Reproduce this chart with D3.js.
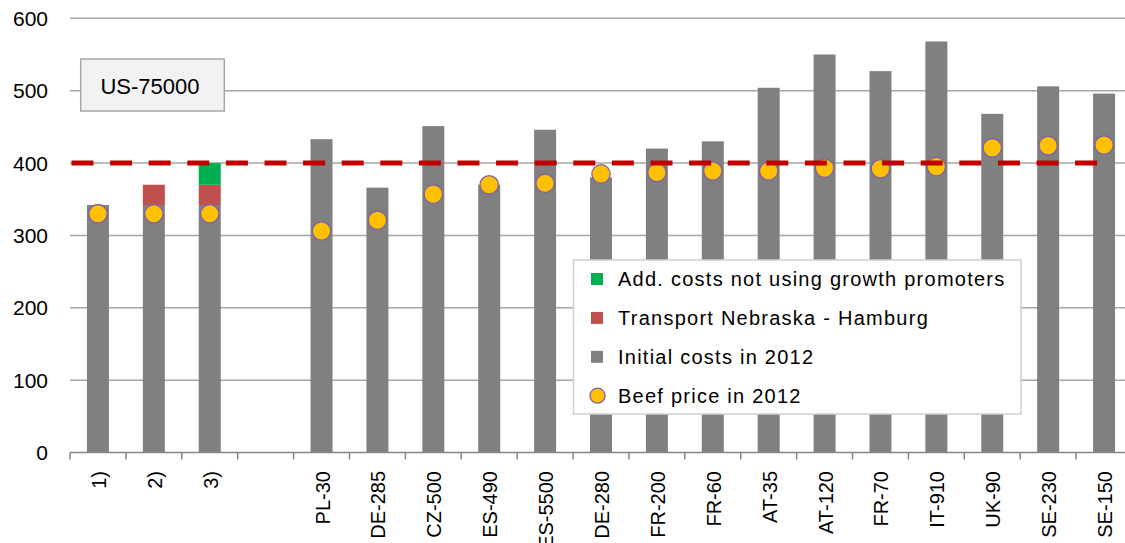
<!DOCTYPE html>
<html>
<head>
<meta charset="utf-8">
<script src="https://cdn.jsdelivr.net/npm/d3@7/dist/d3.min.js"></script>
<style>
  html, body { margin: 0; padding: 0; background: #fff; }
  svg { display: block; font-family: "Liberation Sans", Arial, sans-serif; }
</style>
</head>
<body>
<svg id="chart" width="1125" height="543"></svg>
<script>
// ---- data ----
const categories = ["1)", "2)", "3)", "", "PL-30", "DE-285", "CZ-500", "ES-490", "ES-5500", "DE-280",
  "FR-200", "FR-60", "AT-35", "AT-120", "FR-70", "IT-910", "UK-90", "SE-230", "SE-150"];
const initialCosts = [342, 342, 342, null, 433, 366, 451, 370, 446, 380, 420, 430, 504, 550, 527, 568, 468, 506, 496];
const transportCosts = [0, 28, 28, null, 0, 0, 0, 0, 0, 0, 0, 0, 0, 0, 0, 0, 0, 0, 0];
const addCosts = [0, 0, 30, null, 0, 0, 0, 0, 0, 0, 0, 0, 0, 0, 0, 0, 0, 0, 0];
const beefPrice = [330, 330, 330, null, 306, 321, 357, 370, 372, 385, 387, 389, 389, 393, 392, 395, 421, 424, 425];
const referenceValue = 400;
const yTicks = [0, 100, 200, 300, 400, 500, 600];
const boxLabel = "US-75000";
const legendLabels = ["Add. costs not using growth promoters", "Transport Nebraska - Hamburg", "Initial costs in 2012", "Beef price in 2012"];

// ---- layout ----
const svg = d3.select("#chart");
const plotLeft = 70, plotRight = 1132, plotTop = 18.3, plotBottom = 452.5;

const x = d3.scaleBand().domain(d3.range(categories.length)).range([plotLeft, plotRight]).paddingInner(0).paddingOuter(0);
const y = d3.scaleLinear().domain([0, 600]).range([plotBottom, plotTop]);
const barW = 22;
const colors = { initial: "#808080", transport: "#C0504D", add: "#00B050", dot: "#FFC000", dotStroke: "#7F60A8", ref: "#C00000" };

// gridlines
svg.append("g").selectAll("line").data(yTicks.filter(d => d > 0)).join("line")
  .attr("x1", plotLeft).attr("x2", 1125)
  .attr("y1", d => y(d)).attr("y2", d => y(d))
  .attr("stroke", "#a6a6a6").attr("stroke-width", 1.5);

// y axis labels
svg.append("g").selectAll("text").data(yTicks).join("text")
  .attr("x", 48).attr("y", d => y(d)).attr("dy", "0.36em")
  .attr("text-anchor", "end").attr("font-size", 21).attr("fill", "#000")
  .text(d => d);

// stacked bars
const stackData = categories.map((c, i) => ({ i, initial: initialCosts[i] || 0, transport: transportCosts[i] || 0, add: addCosts[i] || 0 }));
const stack = d3.stack().keys(["initial", "transport", "add"])(stackData);
const barG = svg.append("g");
stack.forEach(layer => {
  barG.append("g").attr("fill", colors[layer.key])
    .selectAll("rect").data(layer.filter(d => d[1] - d[0] > 0)).join("rect")
    .attr("x", d => x(d.data.i) + x.bandwidth() / 2 - barW / 2)
    .attr("width", barW)
    .attr("y", d => y(d[1]))
    .attr("height", d => y(d[0]) - y(d[1]));
});

// x axis line + ticks
svg.append("line").attr("x1", plotLeft).attr("x2", 1125).attr("y1", plotBottom).attr("y2", plotBottom)
  .attr("stroke", "#868686").attr("stroke-width", 1.5);
svg.append("g").selectAll("line").data(d3.range(categories.length + 1)).join("line")
  .attr("x1", i => plotLeft + i * x.bandwidth()).attr("x2", i => plotLeft + i * x.bandwidth())
  .attr("y1", plotBottom).attr("y2", plotBottom + 7)
  .attr("stroke", "#868686").attr("stroke-width", 1.5);

// x labels
svg.append("g").selectAll("text").data(categories.map((c, i) => ({ c, i }))).join("text")
  .attr("transform", d => `translate(${x(d.i) + x.bandwidth() / 2 + 1},471) rotate(-90)`)
  .attr("text-anchor", "end").attr("dy", "0.35em")
  .attr("font-size", 20).attr("fill", "#000")
  .text(d => d.c);

// beef price dots
svg.append("g").selectAll("circle").data(beefPrice.map((v, i) => ({ v, i })).filter(d => d.v != null)).join("circle")
  .attr("cx", d => x(d.i) + x.bandwidth() / 2)
  .attr("cy", d => y(d.v))
  .attr("r", 9.2)
  .attr("fill", colors.dot).attr("stroke", colors.dotStroke).attr("stroke-width", 1.3);

// reference dashed line
svg.append("line")
  .attr("x1", plotLeft).attr("x2", x(categories.length - 1) + x.bandwidth() / 2)
  .attr("y1", y(referenceValue)).attr("y2", y(referenceValue))
  .attr("stroke", colors.ref).attr("stroke-width", 5)
  .attr("stroke-dasharray", "22 16.6").attr("stroke-dashoffset", -1.5);

// US-75000 box
svg.append("rect").attr("x", 80.7).attr("y", 59).attr("width", 143.6).attr("height", 52)
  .attr("fill", "#f2f2f2").attr("stroke", "#a6a6a6").attr("stroke-width", 1.5);
svg.append("text").attr("x", 150).attr("y", 86).attr("dy", "0.36em")
  .attr("text-anchor", "middle").attr("font-size", 22).attr("fill", "#000").text(boxLabel);

// legend
const lg = svg.append("g");
lg.append("rect").attr("x", 573.5).attr("y", 260).attr("width", 447.5).attr("height", 154)
  .attr("fill", "#fff").attr("stroke", "#d0d0d0").attr("stroke-width", 1.5);
const legendColors = [colors.add, colors.transport, colors.initial];
const rowY = i => 279 + i * 38.9;
legendLabels.forEach((lab, i) => {
  if (i < 3) {
    lg.append("rect").attr("x", 591).attr("y", rowY(i) - 6).attr("width", 12).attr("height", 12).attr("fill", legendColors[i]);
  } else {
    lg.append("circle").attr("cx", 597.5).attr("cy", rowY(i)).attr("r", 7.5)
      .attr("fill", colors.dot).attr("stroke", colors.dotStroke).attr("stroke-width", 1.3);
  }
  lg.append("text").attr("x", 618).attr("y", rowY(i)).attr("dy", "0.36em")
    .attr("font-size", 20).attr("letter-spacing", "1.25px").attr("fill", "#000").text(lab);
});
</script>
</body>
</html>
